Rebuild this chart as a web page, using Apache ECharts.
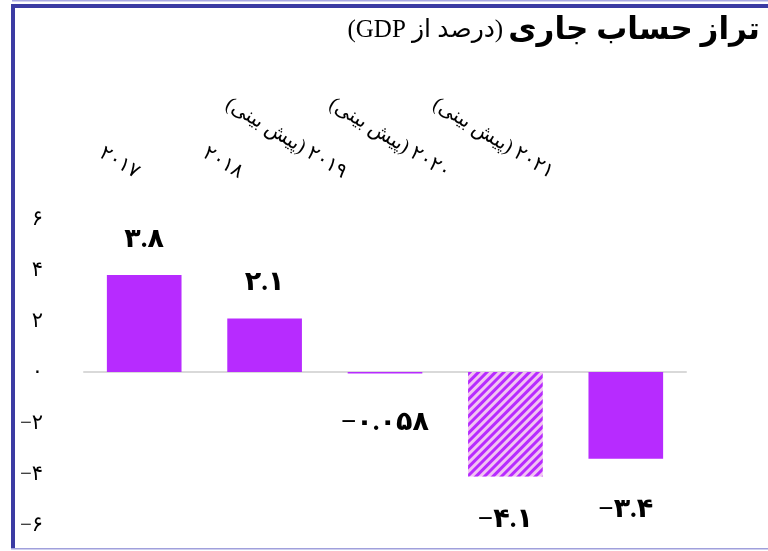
<!DOCTYPE html>
<html>
<head>
<meta charset="utf-8">
<script src="https://cdn.jsdelivr.net/npm/echarts@6/dist/echarts.min.js"></script>
<style>
html,body{margin:0;padding:0;background:#fff;}
#chart{width:768px;height:551px;}
</style>
</head>
<body>
<div id="chart"></div>
<script>
// ---- data ----
const categories = ['۲۰۱۷', '۲۰۱۸', '۲۰۱۹ (پیش بینی)', '۲۰۲۰ (پیش بینی)', '۲۰۲۱ (پیش بینی)'];
const values = [3.8, 2.1, -0.058, -4.1, -3.4];
const hatched = [false, false, false, true, false];
const yMin = -6, yMax = 6, yStep = 2;
const titleMain = 'تراز حساب جاری';
const titleSub = '(درصد از GDP)';

// ---- helpers ----
const RLE = '\u202B', PDF = '\u202C';
const rtl = s => RLE + s + PDF;
const faDigits = '۰۱۲۳۴۵۶۷۸۹';
function fa(v) {
  return String(v).replace(/-/g, '\u2212').replace(/\d/g, d => faDigits[d]);
}
const serif = "'Liberation Serif', 'DejaVu Serif', 'DejaVu Sans', serif";
const barColor = '#b72bff';
const hatchBg = '#f2c4f2';
const negLabelGap = [36, 36, 36, 30, 38];

const seriesData = values.map((v, i) => {
  const item = { value: v };
  if (hatched[i]) {
    item.itemStyle = {
      color: hatchBg,
      decal: {
        symbol: 'rect', symbolSize: 1,
        dashArrayX: [1, 0], dashArrayY: [3, 3],
        rotation: -Math.PI / 4, color: barColor
      }
    };
  }
  if (v < 0) item.label = { position: 'bottom', distance: negLabelGap[i] };
  return item;
});

const chart = echarts.init(document.getElementById('chart'), null, { renderer: 'canvas' });
chart.setOption({
  animation: false,
  backgroundColor: '#fff',
  title: {
    right: 3, top: 10,
    text: '{a|' + rtl(titleSub) + '} {b|' + rtl(titleMain) + '}',
    textStyle: {
      rich: {
        a: { fontFamily: serif, fontSize: 25, color: '#000', fontWeight: 'normal' },
        b: { fontFamily: serif, fontSize: 31, color: '#000', fontWeight: 'bold' }
      }
    }
  },
  grid: [
    { left: 84, right: 82, top: 219, bottom: 26, containLabel: false },
    { left: 86, width: 518, top: 182, height: 100, containLabel: false }
  ],
  xAxis: [
    {
      type: 'category', gridIndex: 0, data: categories,
      axisLine: { onZero: true, lineStyle: { color: '#d9d9d9', width: 2 } },
      axisTick: { show: false }, axisLabel: { show: false }, splitLine: { show: false }
    },
    {
      type: 'category', gridIndex: 1, position: 'top', data: categories,
      axisLine: { show: false }, axisTick: { show: false }, splitLine: { show: false },
      axisLabel: {
        rotate: -31, margin: 8, interval: 0,
        fontFamily: serif, fontSize: 20, color: '#000',
        formatter: s => rtl(s)
      }
    }
  ],
  yAxis: [
    {
      type: 'value', gridIndex: 0, min: yMin, max: yMax, interval: yStep,
      axisLine: { show: false }, axisTick: { show: false }, splitLine: { show: false },
      axisLabel: { margin: 41, fontFamily: serif, fontSize: 21, color: '#000', formatter: v => fa(v) }
    },
    { type: 'value', gridIndex: 1, show: false, min: 0, max: 1 }
  ],
  series: [{
    type: 'bar', xAxisIndex: 0, yAxisIndex: 0,
    data: seriesData,
    barWidth: '62%',
    itemStyle: { color: barColor },
    label: {
      show: true, position: 'top', distance: 22,
      fontFamily: serif, fontSize: 27, fontWeight: 'bold', color: '#000',
      formatter: p => fa(p.value)
    }
  }],
  graphic: [
    { type: 'rect', shape: { x: 12, y: 0, width: 756, height: 1.5 }, style: { fill: '#a9a9e2' }, silent: true },
    { type: 'rect', shape: { x: 11, y: 4, width: 757, height: 4 }, style: { fill: '#3b3ba3' }, silent: true },
    { type: 'rect', shape: { x: 11, y: 4, width: 4, height: 545 }, style: { fill: '#3b3ba3' }, silent: true },
    { type: 'rect', shape: { x: 11, y: 548, width: 757, height: 1.5 }, style: { fill: '#a0a0dc' }, silent: true }
  ]
});
</script>
</body>
</html>
